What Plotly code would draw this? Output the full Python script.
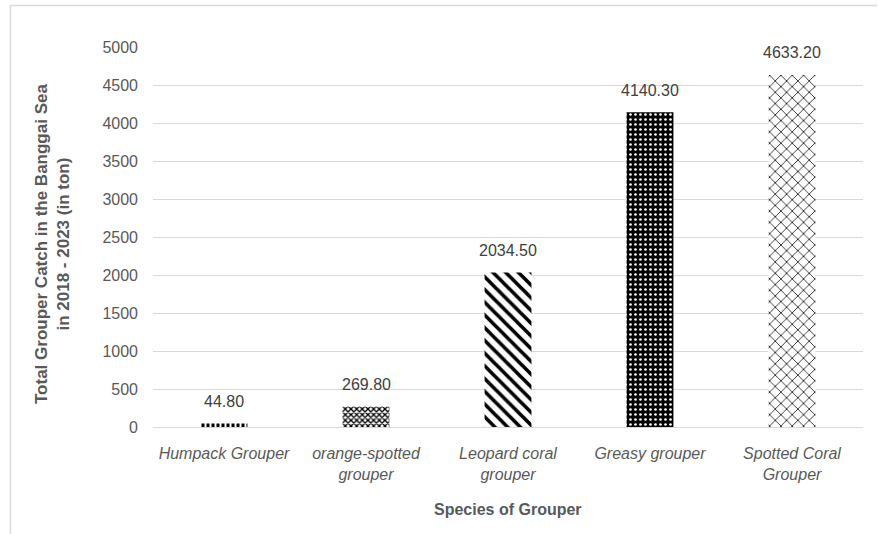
import plotly.graph_objects as go

# Grouper catch totals, Banggai Sea 2018-2023 (tons)
species = ["Humpack Grouper", "orange-spotted<br>grouper", "Leopard coral<br>grouper",
           "Greasy grouper", "Spotted Coral<br>Grouper"]
catch_tons = [44.80, 269.80, 2034.50, 4140.30, 4633.20]
y_ticks = [0, 500, 1000, 1500, 2000, 2500, 3000, 3500, 4000, 4500, 5000]

# Per-bar hatch styles (black & white print style)
pattern_shapes = ["|", "x", "\\", ".", "x"]
pattern_fg = ["white", "black", "black", "white", "black"]
pattern_bg = ["black", "white", "white", "black", "white"]
pattern_size = [5, 4, 9, 5, 8]
pattern_solidity = [0.4, 0.55, 0.4, 0.22, 0.18]

W, H = 878, 534
L, R, T, B = 153, 15, 47, 107
pw, ph = W - L - R, H - T - B

grey = "#595959"
font_family = "Liberation Sans, Arial, sans-serif"

fig = go.Figure(go.Bar(
    x=species,
    y=catch_tons,
    width=0.33,
    marker=dict(
        color="white",
        line=dict(width=0),
        pattern=dict(shape=pattern_shapes, fgcolor=pattern_fg, bgcolor=pattern_bg,
                     size=pattern_size, solidity=pattern_solidity, fillmode="replace"),
    ),
    hoverinfo="x+y",
))

def px_x(px):
    return (px - L) / pw

def px_y(py):
    return (H - B - py) / ph

# value labels above each bar
value_labels = [
    dict(text=f"{v:.2f}", x=s, y=v, xref="x", yref="y",
         xanchor="center", yanchor="middle", yshift=22, showarrow=False,
         font=dict(size=16, color="#404040", family=font_family))
    for s, v in zip(species, catch_tons)
]

fig.update_layout(
    width=W, height=H,
    margin=dict(l=L, r=R, t=T, b=B, autoexpand=False),
    paper_bgcolor="white",
    plot_bgcolor="white",
    showlegend=False,
    font=dict(family=font_family, color=grey, size=16),
    xaxis=dict(
        showgrid=False,
        showline=True, linecolor="#d9d9d9", linewidth=1,
        tickfont=dict(size=16, color=grey, family=font_family, style="italic"),
        ticks="", ticklabelstandoff=12,
    ),
    yaxis=dict(
        range=[0, 5000],
        tickvals=y_ticks,
        showgrid=True, gridcolor="#d9d9d9", gridwidth=1,
        zeroline=False, showline=False,
        tickfont=dict(size=16, color=grey, family=font_family),
        ticks="", ticklabelstandoff=14,
    ),
    annotations=value_labels + [
        dict(text="<b>Total Grouper Catch in the Banggai Sea<br>in 2018 - 2023 (in ton)</b>",
             xref="paper", yref="paper", x=px_x(53), y=px_y(244),
             xanchor="center", yanchor="middle", textangle=-90, showarrow=False,
             font=dict(size=17, color=grey, family=font_family)),
        dict(text="<b>Species of Grouper</b>",
             xref="paper", yref="paper", x=px_x(508), y=px_y(510),
             xanchor="center", yanchor="middle", showarrow=False,
             font=dict(size=16, color=grey, family=font_family)),
    ],
    shapes=[
        # outer chart frame edges
        dict(type="line", xref="paper", yref="paper",
             x0=px_x(10.5), x1=px_x(10.5), y0=px_y(5.5), y1=px_y(560),
             line=dict(color="#d9d9d9", width=1.5)),
        dict(type="line", xref="paper", yref="paper",
             x0=px_x(10.5), x1=px_x(877), y0=px_y(5.5), y1=px_y(5.5),
             line=dict(color="#d9d9d9", width=1.5)),
    ],
)

fig.write_html("out.html")
